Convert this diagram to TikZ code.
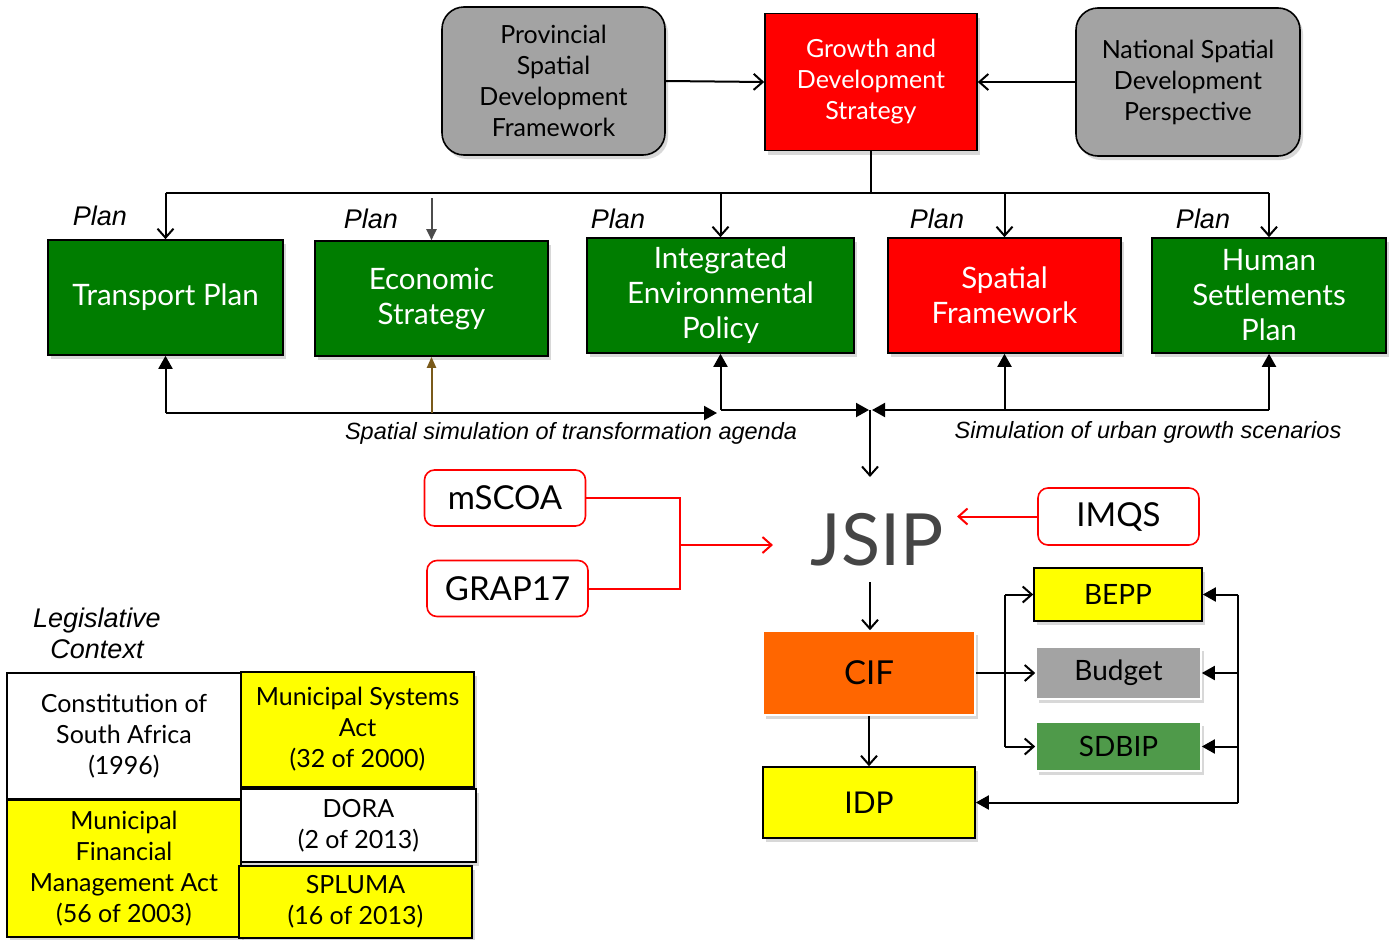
\documentclass[tikz,border=0pt]{standalone}
\usepackage{fontspec}
\setmainfont{Lato}
\newfontfamily\labfont{Liberation Sans}
\usetikzlibrary{arrows.meta,shadows,calc}
\definecolor{pgreen}{HTML}{007D00}
\definecolor{pred}{HTML}{FF0000}
\definecolor{pgray}{HTML}{A3A3A3}
\definecolor{porange}{HTML}{FF6600}
\definecolor{pyellow}{HTML}{FFFF00}
\definecolor{sgreen}{HTML}{4F9A4A}
\definecolor{jsipgray}{HTML}{454545}
\definecolor{brownarrow}{HTML}{7A5A1A}
\newcommand\myfs[2]{\fontsize{#1}{#2}\selectfont}
\tikzset{
  shad/.style={drop shadow={opacity=0.3, shadow xshift=3pt, shadow yshift=-4pt}},
  box/.style={draw=black, line width=1.6pt, align=center, inner sep=2pt, shad},
  topbox/.style={box, font=\myfs{25}{31}},
  rowbox/.style={box, fill=pgreen, text=white, minimum width=234pt, minimum height=115pt, font=\myfs{29.5}{35}},
  redbox/.style={draw=pred, line width=1.6pt, rounded corners=10pt, fill=white, align=center, font=\myfs{33}{36}, minimum width=161pt, minimum height=56pt},
  smallbox/.style={box, font=\myfs{28}{30}},
  legbox/.style={box, line width=1.8pt, font=\myfs{25}{31}},
  planlab/.style={font=\labfont\itshape\myfs{27}{30}},
  simlab/.style={font=\labfont\itshape\myfs{23.5}{26}},
  conn/.style={line width=2pt},
  openarr/.style={conn, -{Straight Barb[length=9pt,width=16pt,line width=2pt]}},
  fillarr/.style={conn, -{Triangle[length=13pt,width=14pt]}},
  redconn/.style={draw=pred, line width=2pt},
  redarr/.style={redconn, -{Straight Barb[length=9pt,width=16pt,line width=2pt]}},
}
\begin{document}
\begin{tikzpicture}[x=1pt,y=-1pt]
\path[use as bounding box, fill=white] (0,0) rectangle (1398,940);

% top row
\node[topbox, fill=pgray, rounded corners=22pt, minimum width=223pt, minimum height=148pt] (psdf) at (553.5,81) {Provincial\\Spatial\\Development\\Framework};
\node[topbox, fill=pred, text=white, minimum width=212pt, minimum height=137pt] (gds) at (871,82) {Growth and\\Development\\Strategy};
\node[topbox, fill=pgray, rounded corners=22pt, minimum width=224pt, minimum height=148pt] (nsdp) at (1188,82) {National Spatial\\Development\\Perspective};
\draw[openarr] (psdf.east) -- (gds.west);
\draw[openarr] (nsdp.west) -- (gds.east);

% second row
\node[rowbox, minimum width=235pt] (tp) at (165.5,297.5) {Transport Plan};
\node[rowbox, minimum width=233pt] (es) at (431.5,298.5) {Economic\\Strategy};
\node[rowbox, minimum width=267pt] (iep) at (720.5,295.5) {Integrated\\Environmental\\Policy};
\node[rowbox, fill=pred, minimum width=233pt] (sf) at (1004.5,295.5) {Spatial\\Framework};
\node[rowbox, minimum width=234pt] (hsp) at (1269,295.5) {Human\\Settlements\\Plan};

\node[planlab] (pl1) at (100,216) {Plan};
\node[planlab] (pl2) at (371,219) {Plan};
\node[planlab] (pl3) at (618,219) {Plan};
\node[planlab] (pl4) at (937,219) {Plan};
\node[planlab] (pl5) at (1203,219) {Plan};

\coordinate (top) at (871,193);
\draw[conn, line width=2.4pt] (gds.south) -- (top);
\draw[conn] (tp.north |- top) -- (hsp.north |- top);
\draw[openarr] (tp.north |- top) -- (tp.north);
\draw[openarr] (iep.north |- top) -- (iep.north);
\draw[openarr] (sf.north |- top) -- (sf.north);
\draw[openarr] (hsp.north |- top) -- (hsp.north);
\coordinate (esstart) at (431.5,198);
\draw[conn, draw=black!70, -{Triangle[length=11pt,width=10pt]}] (esstart) -- (es.north);

% bottom connectors of row 2
\coordinate (b1) at (0,413);
\coordinate (b2) at (0,410);
\coordinate (lend) at (717,413);
\coordinate (mjoinl) at (869,410);
\coordinate (mjoinr) at (872,410);
\coordinate (mjoin) at (870,410);
\draw[fillarr] (tp.south |- b1) -- (tp.south);
\draw[fillarr] (tp.south |- b1) -- (lend);
\draw[conn, draw=brownarrow, -{Triangle[length=11pt,width=9pt]}] (es.south |- b1) -- (es.south);
\draw[fillarr] (iep.south |- b2) -- (iep.south);
\draw[fillarr] (iep.south |- b2) -- (mjoinl);
\draw[fillarr] (hsp.south |- b2) -- (hsp.south);
\draw[fillarr] (sf.south |- b2) -- (sf.south);
\draw[fillarr] (hsp.south |- b2) -- (mjoinr);

\node[simlab] (sim1) at (571,433) {Spatial simulation of transformation agenda};
\node[simlab] (sim2) at (1148,432) {Simulation of urban growth scenarios};

% JSIP
\node[font=\myfs{72}{76}, text=jsipgray, inner sep=0pt] (jsip) at (877,540) {JSIP};
\coordinate (jtop) at (870,477);
\draw[openarr] (mjoin) -- (jtop);

\node[redbox] (mscoa) at (505,498) {mSCOA};
\node[redbox] (grap) at (507.5,588.5) {GRAP17};
\node[redbox, minimum height=57pt] (imqs) at (1118.5,516.5) {IMQS};
\coordinate (rj) at (680,545);
\coordinate (rjend) at (773,545);
\coordinate (imend) at (957,516.5);
\draw[redconn] (mscoa.east) -| (rj) |- (grap.east);
\draw[redarr] (rj) -- (rjend);
\draw[redarr] (imqs.west) -- (imend);

% CIF / IDP
\node[smallbox, draw=white, fill=porange, font=\myfs{33}{36}, minimum width=212pt, minimum height=84pt] (cif) at (869,673) {CIF};
\node[smallbox, fill=pyellow, font=\myfs{30}{32}, minimum width=212pt, minimum height=71pt] (idp) at (869,802.5) {IDP};
\coordinate (jbot) at (870,582);
\draw[openarr] (jbot) -- (cif.north -| jbot);
\draw[openarr] (cif.south) -- (idp.north);

\node[smallbox, fill=pyellow, minimum width=168pt, minimum height=53pt] (bepp) at (1118,594.5) {BEPP};
\node[smallbox, draw=white, fill=pgray, minimum width=165pt, minimum height=52pt] (budget) at (1118.5,673) {Budget};
\node[smallbox, draw=white, fill=sgreen, minimum width=165pt, minimum height=49pt] (sdbip) at (1118.5,746.5) {SDBIP};

\coordinate (br) at (1005,673);
\draw[conn] (cif.east) -- (br);
\draw[conn] (bepp.west -| br) -- (sdbip.west -| br);
\draw[openarr] (br) -- (budget.west);
\draw[openarr] (bepp.west -| br) -- (bepp.west);
\draw[openarr] (sdbip.west -| br) -- (sdbip.west);

\coordinate (rl) at (1238,0);
\draw[conn] (bepp.east -| rl) -- (idp.east -| rl);
\draw[fillarr] (bepp.east -| rl) -- (bepp.east);
\draw[fillarr] (budget.east -| rl) -- (budget.east);
\draw[fillarr] (sdbip.east -| rl) -- (sdbip.east);
\draw[fillarr] (idp.east -| rl) -- (idp.east);

% Legislative context
\node[font=\labfont\itshape\myfs{27}{31}, align=center] (legt) at (97,633) {Legislative\\Context};
\node[legbox, fill=white, minimum width=234pt, minimum height=126pt] (const) at (124,736) {Constitution of\\South Africa\\(1996)};
\node[legbox, fill=pyellow, minimum width=233pt, minimum height=115pt] (msa) at (357.5,729.5) {Municipal Systems\\Act\\(32 of 2000)};
\node[legbox, fill=pyellow, minimum width=234pt, minimum height=137pt] (mfma) at (124,868.5) {Municipal\\Financial\\Management Act\\(56 of 2003)};
\node[legbox, fill=white, minimum width=235pt, minimum height=73pt] (dora) at (358.5,825.5) {DORA\\(2 of 2013)};
\node[legbox, fill=pyellow, minimum width=233pt, minimum height=72pt] (spluma) at (355.5,902) {SPLUMA\\(16 of 2013)};
\end{tikzpicture}
\end{document}
